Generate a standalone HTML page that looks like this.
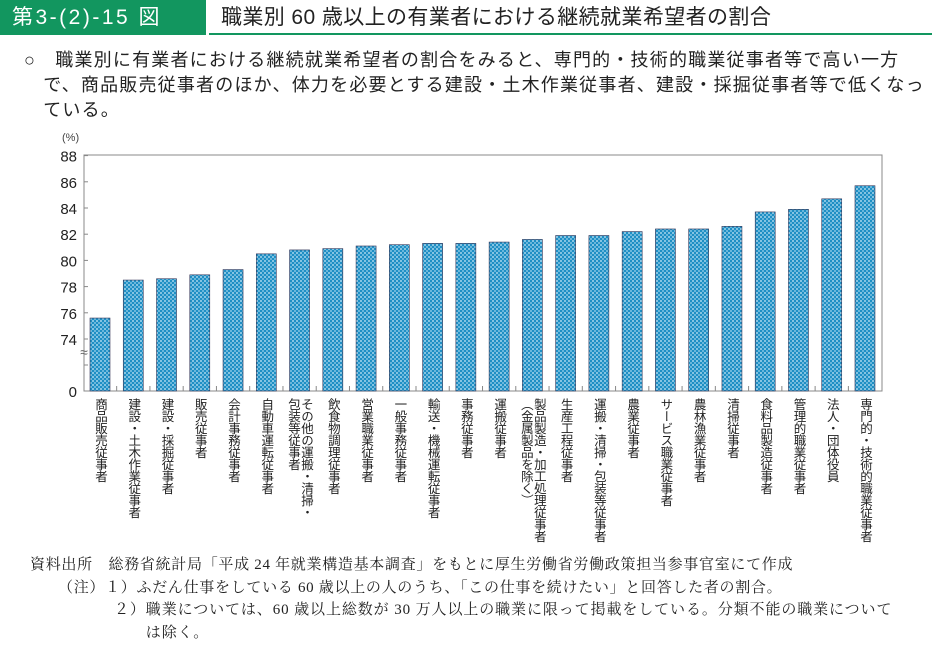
<!DOCTYPE html>
<html><head><meta charset="utf-8">
<style>
body{margin:0;width:932px;height:657px;background:#fff;font-family:"Liberation Sans","Noto Sans CJK JP",sans-serif;position:relative;overflow:hidden;color:#222}
.hdr{position:absolute;left:0;top:0;width:932px;height:35px}
.tag{position:absolute;left:0;top:0;width:206px;height:35px;background:#12965f;color:#fff;font-size:21px;line-height:35px;padding-left:12px;box-sizing:border-box;letter-spacing:2.5px}
.ttl{position:absolute;left:209px;top:0;right:0;height:33px;border-bottom:2px solid #12965f;font-size:21px;line-height:35px;padding-left:12px;letter-spacing:0.4px}
.lead{position:absolute;left:24px;top:48px;font-size:18px;line-height:25px;letter-spacing:1.2px;white-space:nowrap}
.foot{position:absolute;left:30px;font-family:"Liberation Serif","Noto Serif CJK SC",serif;font-size:15px;color:#222;letter-spacing:0.7px;white-space:nowrap}
</style></head><body>
<div class="hdr">
<div class="tag">第3-(2)-15 図</div>
<div class="ttl">職業別 60 歳以上の有業者における継続就業希望者の割合</div>
</div>
<div class="lead">○　職業別に有業者における継続就業希望者の割合をみると、専門的・技術的職業従事者等で高い一方<br>　で、商品販売従事者のほか、体力を必要とする建設・土木作業従事者、建設・採掘従事者等で低くなっ<br>　ている。</div>
<svg id="chart" width="932" height="657" style="position:absolute;left:0;top:0">
<defs><pattern id="dots" width="4" height="4" patternUnits="userSpaceOnUse">
<rect width="4" height="4" fill="#1f8fc4"/><circle cx="1" cy="1" r="0.9" fill="#cfeaf7"/><circle cx="3" cy="3" r="0.9" fill="#9fd4ee"/></pattern></defs>
</svg>
<div class="foot" style="top:553px">資料出所　総務省統計局「平成 24 年就業構造基本調査」をもとに厚生労働省労働政策担当参事官室にて作成</div>
<div class="foot" style="top:576px;left:58px">（注）１）ふだん仕事をしている 60 歳以上の人のうち、「この仕事を続けたい」と回答した者の割合。</div>
<div class="foot" style="top:599px;left:114px;line-height:23px;letter-spacing:0.9px">２）職業については、60 歳以上総数が 30 万人以上の職業に限って掲載をしている。分類不能の職業について<br>　　は除く。</div>
<script>
const categories=["商品販売従事者","建設・土木作業従事者","建設・採掘従事者","販売従事者","会計事務従事者","自動車運転従事者","その他の運搬・清掃・|包装等従事者","飲食物調理従事者","営業職業従事者","一般事務従事者","輸送・機械運転従事者","事務従事者","運搬従事者","製品製造・加工処理従事者|（金属製品を除く）","生産工程従事者","運搬・清掃・包装等従事者","農業従事者","サービス職業従事者","農林漁業従事者","清掃従事者","食料品製造従事者","管理的職業従事者","法人・団体役員","専門的・技術的職業従事者"];
const values=[75.6,78.5,78.6,78.9,79.3,80.5,80.8,80.9,81.1,81.2,81.3,81.3,81.4,81.6,81.9,81.9,82.2,82.4,82.4,82.6,83.7,83.9,84.7,85.7];
const yTicks=[74,76,78,80,82,84,86,88];
const NS="http://www.w3.org/2000/svg";
const svg=document.getElementById('chart');
const L=84,R=882,T=155,B=391,Y74=339,PX=13.1;
function y(v){return Y74-(v-74)*PX;}
function x(i){return 90+i*33.26;}
function mk(t,a){const e=document.createElementNS(NS,t);for(const k in a)e.setAttribute(k,a[k]);svg.appendChild(e);return e;}
const frame=mk('rect',{x:L,y:T,width:R-L,height:B-T,fill:'none',stroke:'#888','stroke-width':1});


const unit=mk('text',{x:62,y:141,'font-size':11,fill:'#444'});unit.textContent='(%)';


yTicks.forEach(v=>{
 const t=mk('text',{x:77,y:y(v)+6,'font-size':15,'text-anchor':'end',fill:'#222'});t.textContent=v;
 
 
 mk('line',{x1:L,x2:L+4,y1:y(v),y2:y(v),stroke:'#888'});
});
const z=mk('text',{x:77,y:B+6,'font-size':15,'text-anchor':'end',fill:'#222'});z.textContent='0';


mk('line',{x1:L,x2:L+4,y1:365,y2:365,stroke:'#888'});
const brk=mk('text',{x:L,y:357,'font-size':14,'text-anchor':'middle',fill:'#666'});brk.textContent='≈';


values.forEach((v,i)=>{
 const b=mk('rect',{x:x(i),y:y(v),width:20,height:B-y(v),fill:'url(#dots)',stroke:'#335',"stroke-width":0.6});
 
 
 if(i>0){mk('line',{x1:x(i)-6.6,x2:x(i)-6.6,y1:B-5,y2:B,stroke:'#888'});}
 const cols=categories[i].split('|');
 const cx=x(i)+10;
 const offs=cols.length==1?[0]:[6.5,-6.5];
 cols.forEach((c,j)=>{
  const t=mk('text',{x:cx+offs[j],y:398,'font-size':12.5,fill:'#222',style:'writing-mode:vertical-rl;text-orientation:upright;letter-spacing:-0.5px'});
  t.textContent=c;
  
  
 });
});
</script>
</body></html>
